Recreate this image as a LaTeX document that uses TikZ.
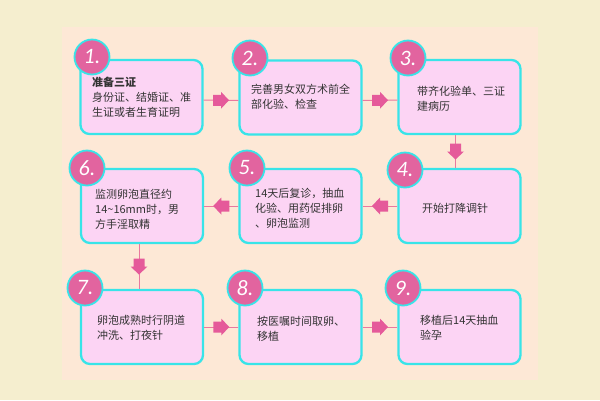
\documentclass[tikz,border=0pt]{standalone}
\usepackage{fontspec}
\usetikzlibrary{calc}
\newfontfamily\cjk{Noto Sans CJK SC}
\newfontfamily\numfont{Carlito}
\definecolor{outerbg}{HTML}{F5EECF}
\definecolor{innerbg}{HTML}{FDE8D6}
\definecolor{boxfill}{HTML}{FCD4F4}
\definecolor{boxline}{HTML}{38E4E8}
\definecolor{circfill}{HTML}{E2649F}
\definecolor{arrowpink}{HTML}{E55A9A}
\definecolor{linepink}{HTML}{E9799F}
\definecolor{txt}{HTML}{333333}
\tikzset{
  stepbox/.style={draw=boxline, line width=2.3pt, fill=boxfill, rounded corners=9pt,
    minimum width=122pt, minimum height=74pt, inner sep=0pt},
  numcirc/.style={circle, draw=boxline, line width=1.8pt, fill=circfill, minimum size=35pt,
    inner sep=0pt, text=white, font=\numfont\itshape\fontsize{22}{22}\selectfont},
  steptext/.style={anchor=west, align=left, inner sep=0pt, text=txt,
    font=\cjk\fontsize{11}{15}\selectfont},
  conn/.style={draw=linepink, line width=1pt},
  blockarr/.pic={\fill[arrowpink] (-8,-5.5) -- (0,-5.5) -- (0,-8.5) -- (8,0) -- (0,8.5) -- (0,5.5) -- (-8,5.5) -- cycle;}
}
\begin{document}
\begin{tikzpicture}[x=1pt,y=-1pt]
\useasboundingbox (0,0) rectangle (600,400);
\fill[outerbg] (0,0) rectangle (600,400);
\fill[innerbg] (62,27) rectangle (538,380);
% boxes
\node[stepbox] (b1) at (141.5,97) {};
\node[stepbox] (b2) at (300.5,97.5) {};
\node[stepbox] (b3) at (459.5,97) {};
\node[stepbox] (b4) at (459.5,206) {};
\node[stepbox] (b5) at (300.5,206) {};
\node[stepbox] (b6) at (142,206) {};
\node[stepbox] (b7) at (142,327) {};
\node[stepbox] (b8) at (300.5,327) {};
\node[stepbox] (b9) at (459.5,327) {};
% connectors
\draw[conn] ($(b1.east)+(0,3)$) -- ($(b2.west)+(0,3)$) pic[midway]{blockarr};
\draw[conn] ($(b2.east)+(0,3)$) -- ($(b3.west)+(0,3)$) pic[midway]{blockarr};
\draw[conn] ($(b3.south)+(-4,0)$) -- ($(b4.north)+(-4,0)$) pic[midway,rotate=-90]{blockarr};
\draw[conn] (b4.west) -- (b5.east) pic[midway,rotate=180]{blockarr};
\draw[conn] (b5.west) -- (b6.east) pic[midway,rotate=180]{blockarr};
\draw[conn] ($(b6.south)+(-3,0)$) -- ($(b7.north)+(-3,0)$) pic[midway,rotate=-90]{blockarr};
\draw[conn] (b7.east) -- (b8.west) pic[midway]{blockarr};
\draw[conn] (b8.east) -- (b9.west) pic[midway]{blockarr};
% texts
\node[steptext] (t1) at (92,97.5) {{\bfseries 准备三证}\\身份证、结婚证、准\\生证或者生育证明};
\node[steptext] (t2) at (251,97) {完善男女双方术前全\\部化验、检查};
\node[steptext] (t3) at (417,98.5) {带齐化验单、三证\\建病历};
\node[steptext] (t4) at (422,208) {开始打降调针};
\node[steptext] (t5) at (255,208) {14天后复诊，抽血\\化验、用药促排卵\\、卵泡监测};
\node[steptext] (t6) at (95,209) {监测卵泡直径约\\14\textasciitilde 16mm时，男\\方手淫取精};
\node[steptext] (t7) at (97,328) {卵泡成熟时行阴道\\冲洗、打夜针};
\node[steptext] (t8) at (257,328.5) {按医嘱时间取卵、\\移植};
\node[steptext] (t9) at (420,327.5) {移植后14天抽血\\验孕};
% number circles
\node[numcirc] (c1) at (92,57) {1.};
\node[numcirc] (c2) at (250,58) {2.};
\node[numcirc] (c3) at (408,58) {3.};
\node[numcirc] (c4) at (405,170) {4.};
\node[numcirc] (c5) at (247,168) {5.};
\node[numcirc] (c6) at (87,168) {6.};
\node[numcirc] (c7) at (85,288) {7.};
\node[numcirc] (c8) at (245,288) {8.};
\node[numcirc] (c9) at (403,288) {9.};
\end{tikzpicture}
\end{document}
